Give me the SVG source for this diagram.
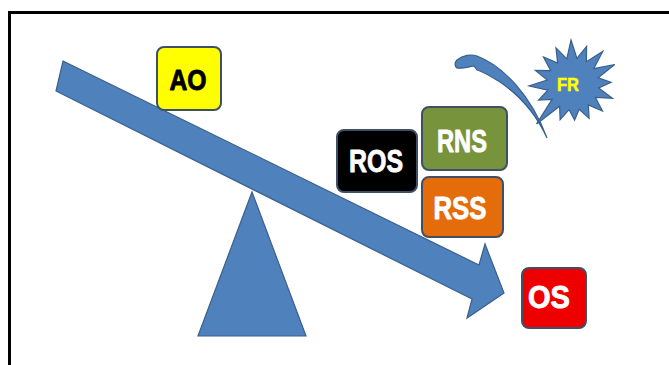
<svg xmlns="http://www.w3.org/2000/svg" width="669" height="365" viewBox="0 0 669 365">
<style>
.shape{fill:#4F81BD;stroke:#3A5F8C;stroke-width:1.2;stroke-linejoin:miter}
.box{stroke:#3F4F66;stroke-width:2}
.lbl{font-family:"Liberation Sans",Arial,sans-serif;font-weight:bold;text-anchor:middle;stroke-width:0.9;stroke-linejoin:round}
.w{fill:#FFFFFF;stroke:#FFFFFF}
</style>
<rect width="669" height="365" fill="#FFFFFF"/>
<path d="M9.5,365 V12.5 H669" fill="none" stroke="#000" stroke-width="3"/>
<g id="connectors">
<polygon id="beam" class="shape" points="63,61 479,265 485,244 504,293 467,318 472,299 56,91"/>
<path id="curve" class="shape" d="M457,60 C463,55 471,54 477,56 C503,66 531,95 547,138 C538,118 522,97 500,82 C490,76 482,71 477,70 L474,66 C468,67 462,69 457,68 C454,66 455,62 457,60 Z"/>
</g>
<g id="fulcrum"><polygon class="shape" points="252,192 306,336 198,336"/></g>
<g id="AO"><rect class="box" x="157" y="47" width="64" height="63" rx="7" fill="#FFFF00"/><text class="lbl" x="188" y="90" style="font-size:29px;fill:#000;stroke:#000" textLength="37" lengthAdjust="spacingAndGlyphs">AO</text></g>
<g id="ROS"><rect class="box" x="337" y="130" width="80" height="62" rx="7" fill="#000000"/><text class="lbl w" x="376" y="172" style="font-size:32px" textLength="54" lengthAdjust="spacingAndGlyphs">ROS</text></g>
<g id="RNS"><rect class="box" x="422" y="107" width="85" height="63" rx="7" fill="#77933C"/><text class="lbl w" x="462" y="152" style="font-size:32px" textLength="50" lengthAdjust="spacingAndGlyphs">RNS</text></g>
<g id="RSS"><rect class="box" x="422" y="177" width="81" height="60" rx="7" fill="#E46C0A"/><text class="lbl w" x="460" y="219" style="font-size:32px" textLength="53" lengthAdjust="spacingAndGlyphs">RSS</text></g>
<g id="OS"><rect class="box" x="522" y="268" width="64" height="60" rx="7" fill="#EE0000"/><text class="lbl w" x="549" y="308" style="font-size:32px" textLength="42" lengthAdjust="spacingAndGlyphs">OS</text></g>
<g id="FR">
<polygon class="shape" points="571,40 576.9,58.3 586.6,46.4 586.4,61.7 602.7,51.5 593.9,68.6 614.7,64.5 598.2,77.8 611,82.3 598.7,87.9 612.5,98.3 595.3,97.4 602.5,111 588.4,104.9 589.1,118.4 579.2,109.2 574.6,120 569.1,109.7 560.1,119.7 559.6,106.3 536.6,123.9 552.1,99.4 538.6,100.1 547.8,90.2 529,86 547.3,80.1 535.4,70.4 550.7,70.6 543.5,57 557.6,63.1 556,47.8 566.8,58.8"/>
<text class="lbl" x="568" y="91" style="font-size:19px;fill:#FFFF00;stroke:#FFFF00;stroke-width:0.5" textLength="22" lengthAdjust="spacingAndGlyphs">FR</text>
</g>
</svg>
